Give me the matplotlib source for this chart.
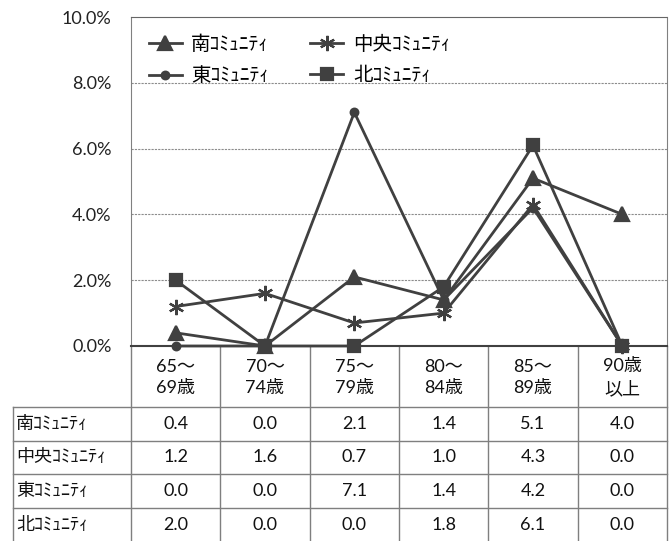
import matplotlib
matplotlib.use("Agg")
import numpy as np
import matplotlib.pyplot as plt
from matplotlib.ticker import FuncFormatter

plt.rcParams['font.family'] = ['Lato', 'Noto Sans CJK JP', 'DejaVu Sans']

categories = ['65～\n69歳', '70～\n74歳', '75～\n79歳', '80～\n84歳', '85～\n89歳', '90歳\n以上']
series_names = ['南ｺﾐｭﾆﾃｨ', '中央ｺﾐｭﾆﾃｨ', '東ｺﾐｭﾆﾃｨ', '北ｺﾐｭﾆﾃｨ']
minami = [0.4, 0.0, 2.1, 1.4, 5.1, 4.0]
chuo = [1.2, 1.6, 0.7, 1.0, 4.3, 0.0]
higashi = [0.0, 0.0, 7.1, 1.4, 4.2, 0.0]
kita = [2.0, 0.0, 0.0, 1.8, 6.1, 0.0]
yticks = [0, 2, 4, 6, 8, 10]

values = [minami, chuo, higashi, kita]
markers = ['^', (6, 2, 0), 'o', 's']
msizes = [10, 11, 5.5, 8.5]
col = '#404040'
grid_col = '#8c8c8c'
fs = 13

W, H = 670, 541
fig = plt.figure(figsize=(W / 100, H / 100), dpi=100)

# pixel layout
ax_l, ax_r, ax_t, ax_b = 131, 667, 17, 346
ax = fig.add_axes([ax_l / W, 1 - ax_b / H, (ax_r - ax_l) / W, (ax_b - ax_t) / H])

x = np.arange(len(categories))
lines = []
for name, vals, m, ms in zip(series_names, values, markers, msizes):
    ln, = ax.plot(x, vals, color=col, lw=2, marker=m, ms=ms,
                  mfc=col, mec=col, mew=1.6, label=name, clip_on=False, zorder=3)
    lines.append(ln)

ax.set_xlim(-0.5, len(categories) - 0.5)
ax.set_ylim(0, 10)
ax.set_yticks(yticks)
ax.yaxis.set_major_formatter(FuncFormatter(lambda v, p: f'{v:.1f}%'))
ax.set_xticks([])
ax.tick_params(axis='y', length=0, pad=14, labelsize=fs, colors='#222222')
for t in yticks[1:-1]:
    ax.axhline(t, color=grid_col, lw=0.8, ls=(0, (2, 1)), zorder=1)
ax.spines['top'].set_color('#666666')
ax.spines['top'].set_linestyle((0, (2, 1)))
ax.spines['right'].set_color('#808080')
ax.spines['left'].set_color('#808080')
ax.spines['bottom'].set_color(col)
ax.spines['bottom'].set_linewidth(1.5)

order = [0, 2, 1, 3]
ax.legend([lines[i] for i in order], [series_names[i] for i in order],
          ncol=2, frameon=False, loc='upper left', bbox_to_anchor=(0.0, 1.0),
          fontsize=14, handlelength=1.7, handletextpad=0.5, columnspacing=2.1,
          labelspacing=0.7, borderaxespad=0.4, borderpad=0.5)

# data table beneath the chart
tax = fig.add_axes([0, 0, 1, 1], zorder=-1)
tax.set_xlim(0, W)
tax.set_ylim(H, 0)
tax.axis('off')
tab_l = 13
cw = (ax_r - ax_l) / len(categories)
head_b = 407
rh = 33.6
edges = [ax_l + i * cw for i in range(len(categories) + 1)]
tcol = '#7f7f7f'
for e in edges:
    tax.plot([e, e], [ax_b, H], color=tcol, lw=1)
tax.plot([tab_l, tab_l], [head_b, H], color=tcol, lw=1)
for r in range(len(series_names)):
    yy = head_b + r * rh
    tax.plot([tab_l, ax_r], [yy, yy], color=tcol, lw=1)
for i, c in enumerate(categories):
    tax.text(edges[i] + cw / 2, (ax_b + head_b) / 2 + 1, c, ha='center', va='center',
             fontsize=fs, linespacing=1.45, color='#111111')
for r, (name, vals) in enumerate(zip(series_names, values)):
    yc = head_b + (r + 0.5) * rh
    tax.text(tab_l + 3, yc, name, ha='left', va='center', fontsize=fs, color='#111111')
    for i, v in enumerate(vals):
        tax.text(edges[i] + cw / 2, yc, f'{v:.1f}', ha='center', va='center',
                 fontsize=fs, color='#111111')

fig.savefig('out.png', dpi=100)
